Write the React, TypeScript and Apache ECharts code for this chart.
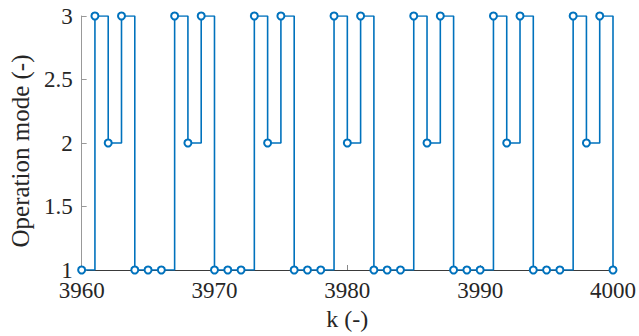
import React, { useEffect, useRef } from "react";
import * as echarts from "echarts";

const kValues: number[] = [
  3960, 3961, 3962, 3963, 3964, 3965, 3966, 3967, 3968, 3969, 3970,
  3971, 3972, 3973, 3974, 3975, 3976, 3977, 3978, 3979, 3980,
  3981, 3982, 3983, 3984, 3985, 3986, 3987, 3988, 3989, 3990,
  3991, 3992, 3993, 3994, 3995, 3996, 3997, 3998, 3999, 4000,
];
const modeValues: number[] = [
  1, 3, 2, 3, 1, 1, 1, 3, 2, 3, 1,
  1, 1, 3, 2, 3, 1, 1, 1, 3, 2,
  3, 1, 1, 1, 3, 2, 3, 1, 1, 1,
  3, 2, 3, 1, 1, 1, 3, 2, 3, 1,
];
const xTicks = { min: 3960, max: 4000, interval: 10 };
const yTicks = { min: 1, max: 3, interval: 0.5 };
const xName = "k (-)";
const yName = "Operation mode (-)";

export default function App() {
  const ref = useRef<HTMLDivElement>(null);
  useEffect(() => {
    if (!ref.current) return;
    const chart = echarts.init(ref.current, undefined, { renderer: "svg" });
    const font = "Times New Roman, Liberation Serif, Tinos, serif";
    chart.setOption({
      animation: false,
      backgroundColor: "#ffffff",
      grid: { left: 77, right: 24, top: 16, bottom: 63, containLabel: false },
      xAxis: {
        type: "value",
        min: xTicks.min,
        max: xTicks.max,
        interval: xTicks.interval,
        name: xName,
        nameLocation: "middle",
        nameGap: 37,
        nameTextStyle: { fontFamily: font, fontSize: 24, color: "#262626" },
        axisLine: { show: true, lineStyle: { color: "#3a3a3a", width: 1 } },
        axisTick: { show: true, inside: true, length: 5, lineStyle: { color: "#888" } },
        axisLabel: {
          fontFamily: font,
          fontSize: 23,
          color: "#262626",
          margin: 9,
          formatter: (v: number) => String(v),
        },
        splitLine: { show: false },
      },
      yAxis: {
        type: "value",
        min: yTicks.min,
        max: yTicks.max,
        interval: yTicks.interval,
        name: yName,
        nameLocation: "middle",
        nameGap: 45,
        nameRotate: 90,
        nameTextStyle: { fontFamily: font, fontSize: 25, color: "#262626", padding: [0, 16, 0, 0] },
        axisLine: { show: true, lineStyle: { color: "#999", width: 1 } },
        axisTick: { show: true, inside: true, length: 5, lineStyle: { color: "#999" } },
        axisLabel: { fontFamily: font, fontSize: 23, color: "#262626", margin: 9 },
        splitLine: { show: false },
      },
      series: [
        {
          type: "line",
          step: "end",
          data: kValues.map((k, i) => [k, modeValues[i]]),
          symbol: "emptyCircle",
          symbolSize: 7,
          showAllSymbol: true,
          lineStyle: { color: "#0072BD", width: 1.6 },
          itemStyle: { color: "#0072BD", borderColor: "#0072BD", borderWidth: 1.6 },
        },
      ],
    });
    return () => chart.dispose();
  }, []);
  return <div ref={ref} style={{ width: 639, height: 336, position: "absolute", left: 0, top: 0 }} />;
}
